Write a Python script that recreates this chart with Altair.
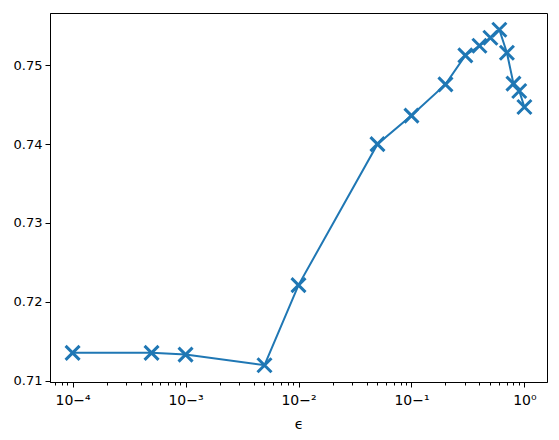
import altair as alt
import pandas as pd

eps = [1e-4, 5e-4, 1e-3, 5e-3, 1e-2, 5e-2, 0.1, 0.2, 0.3, 0.4, 0.5, 0.6, 0.7, 0.8, 0.9, 1.0]
score = [0.71351, 0.71351, 0.71329, 0.71194, 0.72211, 0.74000, 0.74363, 0.74759,
         0.75127, 0.75249, 0.75351, 0.75452, 0.75161, 0.74768, 0.74675, 0.74472]
y_ticks = [0.71, 0.72, 0.73, 0.74, 0.75]
major_x = [1e-4, 1e-3, 1e-2, 1e-1, 1.0]
minor_x = [m * 10.0 ** k for k in range(-5, 1) for m in range(2, 10)]

x_domain = [10 ** -4.2, 10 ** 0.2]
y_domain = [0.70981, 0.75665]
x_ticks = [v for v in sorted(major_x + minor_x) if x_domain[0] <= v <= x_domain[1]]

df = pd.DataFrame({"eps": eps, "score": score})
blue = "#1f77b4"

is_major = "abs(log(datum.value)/log(10) - round(log(datum.value)/log(10))) < 1e-6"

x_enc = alt.X(
    "eps:Q",
    scale=alt.Scale(type="log", domain=x_domain, nice=False, zero=False),
    axis=alt.Axis(
        title="ϵ",
        values=x_ticks,
        labelExpr=(
            is_major + " ? "
            "'10' + replace(replace(replace(replace(replace(replace(format(round(log(datum.value)/log(10)), 'd'),"
            "'-', '⁻'), '0', '⁰'), '1', '¹'), '2', '²'), '3', '³'), '4', '⁴') : ''"
        ),
        tickSize={"condition": {"test": is_major, "value": 5}, "value": 3},
        labelPadding=6,
        titlePadding=10,
        labelFontSize=14,
        grid=False,
    ),
)
y_enc = alt.Y(
    "score:Q",
    scale=alt.Scale(domain=y_domain, nice=False, zero=False),
    axis=alt.Axis(title=None, values=y_ticks, format=".2f", tickSize=5, labelPadding=3, grid=False),
)

line = alt.Chart(df).mark_line(color=blue, strokeWidth=2, clip=True).encode(x=x_enc, y=y_enc)
pts = alt.Chart(df).mark_point(
    shape="M-1,-1L1,1M1,-1L-1,1", size=196, filled=False, color=blue, strokeWidth=3, opacity=1
).encode(x="eps:Q", y="score:Q")

chart = (
    alt.layer(line, pts)
    .properties(
        width=497,
        height=369,
        autosize=alt.AutoSizeParams(type="none"),
        padding={"left": 42, "top": 5, "right": 4, "bottom": 50},
    )
    .configure_view(stroke="black", strokeWidth=1)
    .configure_axis(
        domainColor="black",
        tickColor="black",
        labelColor="black",
        titleColor="black",
        labelFont="DejaVu Sans",
        titleFont="DejaVu Sans",
        labelFontSize=13,
        titleFontSize=14,
        titleFontWeight="normal",
        domainWidth=1,
        tickWidth=1,
    )
)

chart.save("out.html", embed_options={"renderer": "svg", "actions": False})
